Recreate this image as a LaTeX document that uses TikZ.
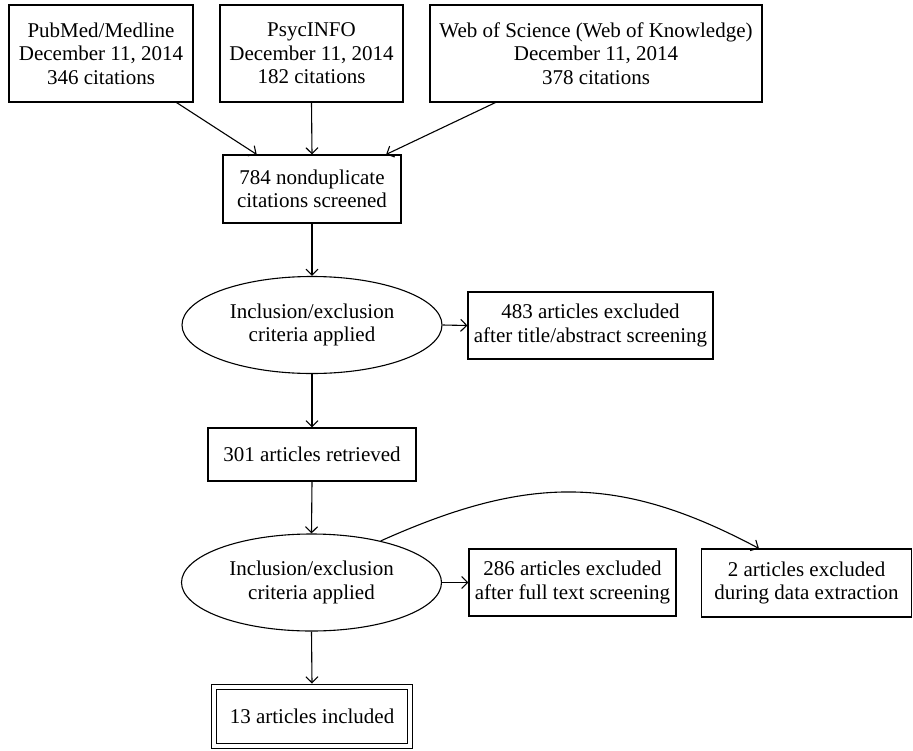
\documentclass[tikz,border=0pt]{standalone}
\usepackage{fontspec}
\setmainfont{Liberation Serif}
\usetikzlibrary{arrows.meta,shapes.geometric}
\tikzset{
  box/.style={draw, rectangle, align=center, inner sep=2pt},
  crit/.style={draw, ellipse, align=center, inner sep=0pt, minimum width=260pt, minimum height=97pt},
  arr/.style={-{Straight Barb[length=6pt,width=12pt]}}
}

\begin{document}
\begin{tikzpicture}[x=1pt, y=-1pt, line width=1.1pt, font=\fontsize{21}{23.5}\selectfont]
\useasboundingbox (0,0) rectangle (913,750);

\node[box, minimum width=184pt, minimum height=97pt] (pubmed) at (101,53.5) {PubMed/Medline\\December 11, 2014\\346 citations};
\node[box, minimum width=183pt, minimum height=97pt] (psyc) at (311.5,53.5) {PsycINFO\\December 11, 2014\\182 citations};
\node[box, minimum width=332pt, minimum height=97pt] (wos) at (596,53.5) {Web of Science (Web of Knowledge)\\December 11, 2014\\378 citations};

\node[box, minimum width=178pt, minimum height=68pt] (screened) at (312,189) {784 nondupli\-cate\\citations screened};

\node[crit] (crit1) at (312,325) {Inclusion/exclusion\\criteria applied};
\node[box, minimum width=245pt, minimum height=67pt] (excl1) at (590.5,325.5) {483 articles excluded\\after title/abstract screening};

\node[box, minimum width=208pt, minimum height=53pt] (retrieved) at (312,454.5) {301 articles retrieved};

\node[crit] (crit2) at (311.5,582.5) {Inclusion/exclusion\\criteria applied};
\node[box, minimum width=207pt, minimum height=67pt] (excl2) at (572.5,582.5) {286 articles excluded\\after full text screening};
\node[box, minimum width=210pt, minimum height=68pt] (excl3) at (806.5,583) {2 articles excluded\\during data extraction};

\node[box, double, double distance=4.7pt, minimum width=196pt, minimum height=59pt, outer sep=3.5pt] (included) at (312,716.5) {13 articles included};

\draw[arr] (pubmed.-33) -- (screened.148);
\draw[arr] (psyc.south) -- (screened.north);
\draw[arr] (wos.-154) -- (screened.25);
\draw[arr] (screened.south) -- (crit1.north);
\draw[arr] (crit1.east) -- (excl1.west);
\draw[arr] (crit1.south) -- (retrieved.north);
\draw[arr] (retrieved.south) -- (crit2.north);
\draw[arr] (crit2.east) -- (excl2.west);
\draw[arr] (crit2.31) .. controls (528,475) and (619,474) .. (excl3.144);
\draw[arr] (crit2.south) -- (included.north);
\end{tikzpicture}
\end{document}
